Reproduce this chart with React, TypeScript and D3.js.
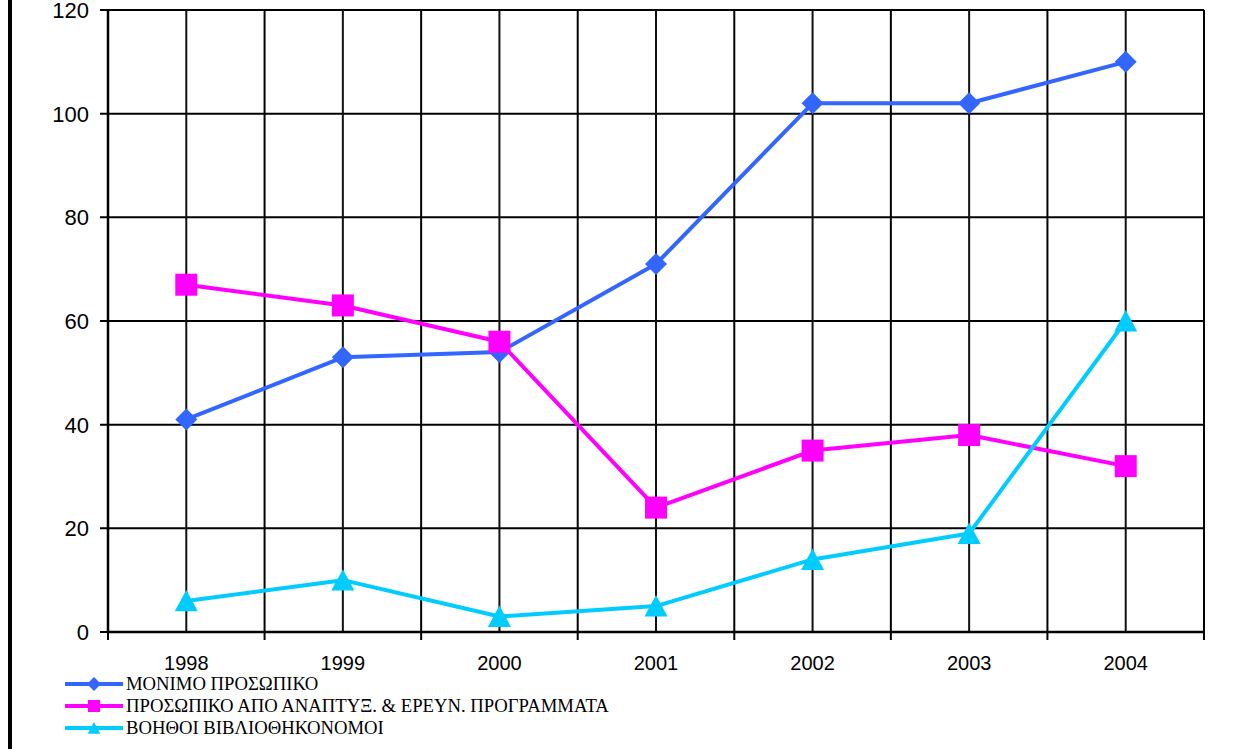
import React from "react";
import * as d3 from "d3";

const years = ["1998", "1999", "2000", "2001", "2002", "2003", "2004"];
const monimo = [41, 53, 54, 71, 102, 102, 110];
const programmata = [67, 63, 56, 24, 35, 38, 32];
const voithoi = [6, 10, 3, 5, 14, 19, 60];
const yTicks = [0, 20, 40, 60, 80, 100, 120];
const seriesNames = [
  "ΜΟΝΙΜΟ ΠΡΟΣΩΠΙΚΟ",
  "ΠΡΟΣΩΠΙΚΟ ΑΠΟ ΑΝΑΠΤΥΞ. & ΕΡΕΥΝ. ΠΡΟΓΡΑΜΜΑΤΑ",
  "ΒΟΗΘΟΙ ΒΙΒΛΙΟΘΗΚΟΝΟΜΟΙ",
];
const colors = ["#3366FF", "#FF00FF", "#00CCFF"];
const shapes = ["diamond", "square", "triangle"];

const W = 1242, H = 749;
const L = 108, R = 1204, T = 10, B = 632;

function Marker({ shape, x, y, s, color }: any) {
  if (shape === "diamond") {
    return <path d={`M${x},${y - s}L${x + s},${y}L${x},${y + s}L${x - s},${y}Z`} fill={color} />;
  }
  if (shape === "square") {
    return <rect x={x - s} y={y - s} width={2 * s} height={2 * s} fill={color} />;
  }
  return <path d={`M${x},${y - s}L${x + s * 1.05},${y + s * 0.95}L${x - s * 1.05},${y + s * 0.95}Z`} fill={color} />;
}

export default function App() {
  const band = d3.scaleBand().domain(years).range([L, R]).paddingInner(0).paddingOuter(0);
  const y = d3.scaleLinear().domain([0, 120]).range([B, T]);
  const cx = (yr: string) => (band(yr) as number) + band.bandwidth() / 2;
  const line = d3
    .line<number>()
    .x((_, i) => cx(years[i]))
    .y((d) => y(d));
  const data = [monimo, programmata, voithoi];
  const boundaries = years.map((yr) => band(yr) as number).concat([R]);
  const legendY = [684, 706, 728];

  return (
    <svg width={W} height={H} style={{ position: "absolute", left: 0, top: 0, background: "#fff" }}>
      <rect x={0} y={0} width={W} height={H} fill="#fff" />
      <rect x={8} y={0} width={4} height={H} fill="#000" />
      {yTicks.map((t) => (
        <g key={t}>
          <line x1={100} x2={R} y1={y(t)} y2={y(t)} stroke="#000" strokeWidth={2} />
          <text x={89} y={y(t) + 8} textAnchor="end" fontFamily="'Liberation Sans', Arial, sans-serif" fontSize={22} fill="#000">
            {t}
          </text>
        </g>
      ))}
      {boundaries.map((b, i) => (
        <line key={"b" + i} x1={b} x2={b} y1={T} y2={B + 8} stroke="#000" strokeWidth={2} />
      ))}
      {years.map((yr) => (
        <line key={"c" + yr} x1={cx(yr)} x2={cx(yr)} y1={T} y2={B} stroke="#111" strokeWidth={2} />
      ))}
      <line x1={L} x2={L} y1={T} y2={B} stroke="#000" strokeWidth={2.5} />
      <line x1={L} x2={R} y1={B} y2={B} stroke="#000" strokeWidth={2.5} />
      {years.map((yr) => (
        <text key={"t" + yr} x={cx(yr)} y={670} textAnchor="middle" fontFamily="'Liberation Sans', Arial, sans-serif" fontSize={20} fill="#000">
          {yr}
        </text>
      ))}
      {data.map((d, si) => (
        <g key={si}>
          <path d={line(d) as string} fill="none" stroke={colors[si]} strokeWidth={4} strokeLinejoin="round" />
          {d.map((v, i) => (
            <Marker key={i} shape={shapes[si]} x={cx(years[i])} y={y(v)} s={11} color={colors[si]} />
          ))}
        </g>
      ))}
      {seriesNames.map((n, i) => (
        <g key={n}>
          <line x1={65} x2={123} y1={legendY[i]} y2={legendY[i]} stroke={colors[i]} strokeWidth={4} />
          <Marker shape={shapes[i]} x={94} y={legendY[i]} s={i === 0 ? 7 : 6} color={colors[i]} />
          <text x={126} y={legendY[i] + 6} fontFamily="'Liberation Serif', 'Times New Roman', serif" fontSize={18.7} fill="#000">
            {n}
          </text>
        </g>
      ))}
    </svg>
  );
}
